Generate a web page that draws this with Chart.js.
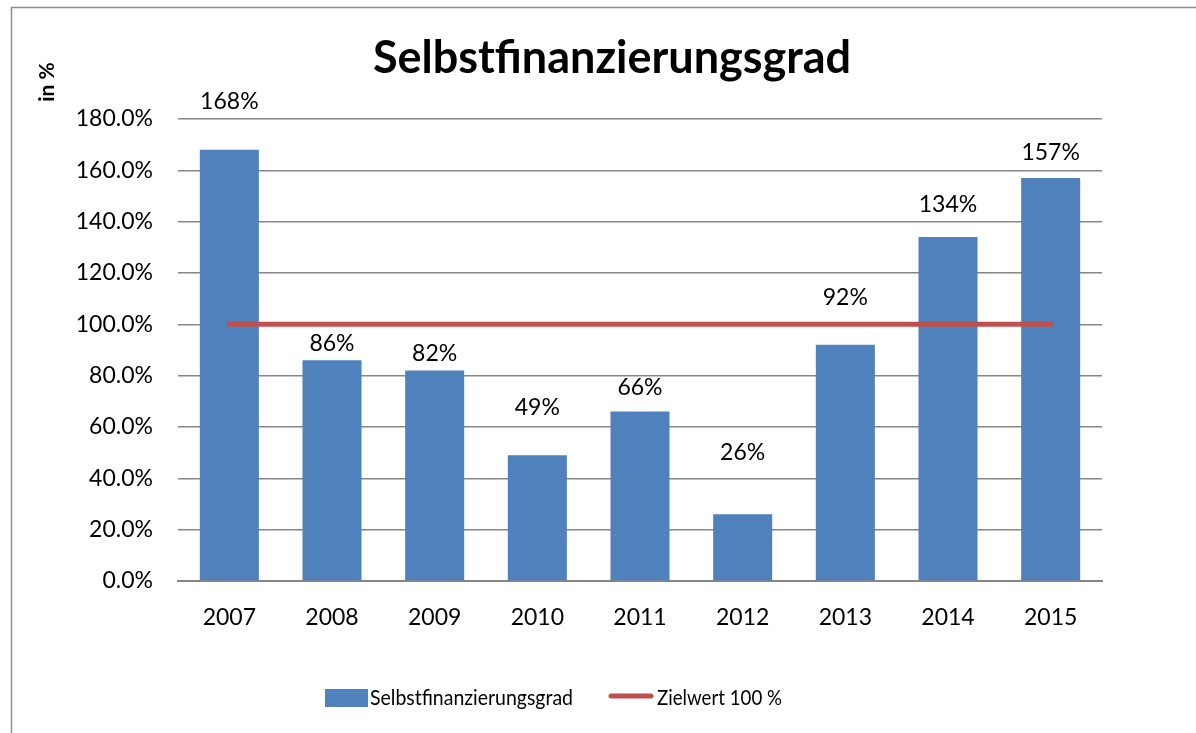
<!DOCTYPE html>
<html>
<head>
<meta charset="utf-8">
<script src="https://cdn.jsdelivr.net/npm/chart.js@4.4.1/dist/chart.umd.min.js"></script>
<style>
  html, body { margin: 0; padding: 0; background: #fff; }
  #wrap { width: 1196px; height: 733px; position: relative; }
</style>
</head>
<body>
<div id="wrap"><canvas id="chart" width="1196" height="733"></canvas></div>
<script>
const jahre = ['2007', '2008', '2009', '2010', '2011', '2012', '2013', '2014', '2015'];
const selbstfin = [168, 86, 82, 49, 66, 26, 92, 134, 157];
const zielwert = [100, 100, 100, 100, 100, 100, 100, 100, 100];
const yTicks = [0, 20, 40, 60, 80, 100, 120, 140, 160, 180];
// how far each value label sits above its bar (px), as placed in the original
const labelLift = [48, 17, 17, 48, 24, 62, 47, 32, 25];

const FONT = 'Lato, "Open Sans", sans-serif';
const BLUE = '#4F81BD';
const RED = '#C0504D';

// legend text in the original is narrow (Calibri), so squeeze it into its width
function narrowText(c, text, x, y, w) {
  const m = c.measureText(text).width;
  c.save();
  c.translate(x, y);
  c.scale(Math.min(1, w / m), 1);
  c.fillText(text, 0, 0);
  c.restore();
}

const extras = {
  id: 'extras',
  beforeDraw(chart) {
    const c = chart.ctx;
    c.save();
    c.fillStyle = '#fff';
    c.fillRect(0, 0, chart.width, chart.height);
    c.strokeStyle = '#8c8c8c';
    c.lineWidth = 1.5;
    c.strokeRect(11.5, 7.5, 1400, 1000);
    c.restore();
  },
  afterDatasetsDraw(chart) {
    const c = chart.ctx;
    const bars = chart.getDatasetMeta(1);
    c.save();
    c.fillStyle = '#000';
    c.font = '23px ' + FONT;
    c.textAlign = 'center';
    c.textBaseline = 'middle';
    bars.data.forEach((bar, i) => {
      c.fillText(selbstfin[i] + '%', bar.x, bar.y - labelLift[i]);
    });

    // title
    c.font = 'bold 45px ' + FONT;
    c.fillText('Selbstfinanzierungsgrad', 612, 58);

    // y axis title
    c.save();
    c.translate(47, 82);
    c.rotate(-Math.PI / 2);
    c.font = 'bold 21px ' + FONT;
    c.fillText('in %', 0, 0);
    c.restore();

    // legend
    c.textAlign = 'left';
    c.font = '22px ' + FONT;
    c.fillStyle = BLUE;
    c.fillRect(325, 689, 43, 18);
    c.fillStyle = '#000';
    narrowText(c, chart.data.datasets[1].label, 370, 698, 203);
    c.strokeStyle = RED;
    c.lineWidth = 5;
    c.lineCap = 'round';
    c.beginPath();
    c.moveTo(611, 696);
    c.lineTo(651, 696);
    c.stroke();
    narrowText(c, chart.data.datasets[0].label, 657, 698, 125);
    c.restore();
  }
};

new Chart(document.getElementById('chart'), {
  data: {
    labels: jahre,
    datasets: [
      {
        type: 'line', label: 'Zielwert 100 %', data: zielwert,
        borderColor: RED, borderWidth: 5, borderCapStyle: 'round',
        pointRadius: 0, fill: false, order: 0
      },
      {
        type: 'bar', label: 'Selbstfinanzierungsgrad', data: selbstfin,
        backgroundColor: BLUE, borderWidth: 0,
        barPercentage: 0.575, categoryPercentage: 1, order: 1
      }
    ]
  },
  options: {
    responsive: false,
    animation: false,
    layout: { padding: { left: 0, right: 94, top: 119, bottom: 0 } },
    plugins: { legend: { display: false }, title: { display: false }, tooltip: { enabled: false } },
    scales: {
      x: {
        grid: { display: false },
        border: { color: '#868686', width: 2 },
        ticks: { color: '#000', font: { family: FONT, size: 23 }, padding: 15, maxRotation: 0 },
        afterFit: (s) => { s.height = 152; }
      },
      y: {
        min: 0, max: 180,
        afterBuildTicks: (s) => { s.ticks = yTicks.map(v => ({ value: v })); },
        grid: { color: '#868686', lineWidth: 1.5, drawTicks: false },
        border: { display: false },
        ticks: {
          color: '#000', font: { family: FONT, size: 23 }, padding: 25,
          callback: (v) => v.toFixed(1) + '%'
        },
        afterFit: (s) => { s.width = 178; }
      }
    }
  },
  plugins: [extras]
});
</script>
</body>
</html>
